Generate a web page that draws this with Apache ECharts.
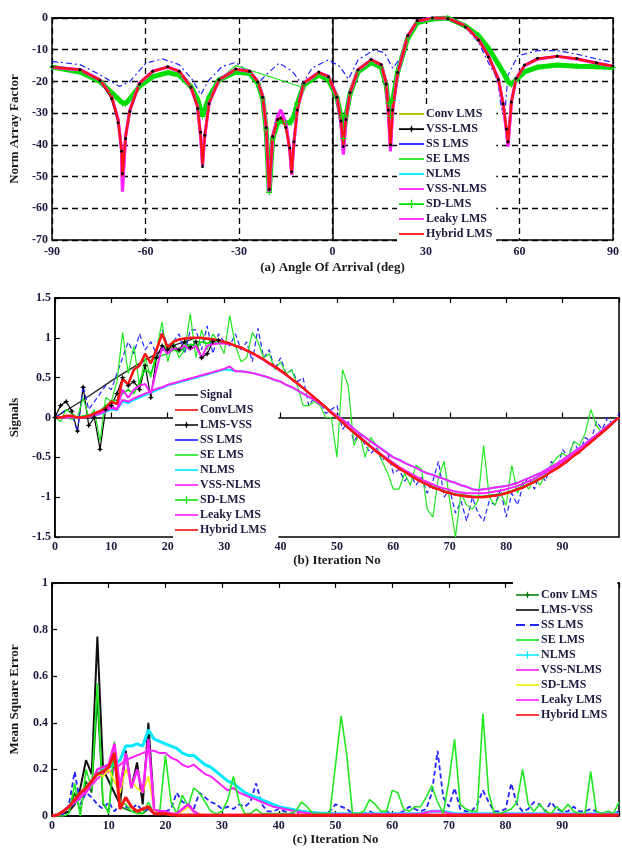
<!DOCTYPE html>
<html><head><meta charset="utf-8">
<script src="https://cdn.jsdelivr.net/npm/echarts@6/dist/echarts.min.js"></script>
<style>html,body{margin:0;padding:0;background:#fff}#c{width:622px;height:849px}</style>
</head><body><div id="c"></div>
<script>
// ---------- Panel (a): array factor vs angle ----------
const angleA = [-90,-81,-74.6,-70.9,-68.8,-67.7,-67.4,-66.4,-65,-61.9,
  -57.7,-52.9,-49.2,-45.5,-43.3,-42.3,-41.7,-41,-39.6,-36.4,
  -31,-26.6,-24,-22.4,-21.3,-20.3,-19.2,-17.6,-16.6,-15,
  -13.7,-13.1,-12.4,-11.3,-9.2,-4.4,-1.3,1.4,2.7,3.5,
  4.3,5.6,8.2,12.4,15.6,17.2,17.9,18.6,19.3,20.9,
  24.1,27.2,32,37,42.6,46.8,50,53.2,54.7,55.8,
  56.3,57.4,58.9,61.6,65.8,72.1,78.4,84.7,90];
const hybridA = [-15.5,-16.3,-19.5,-24.7,-32,-41.6,-50,-37.4,-29,-20.5,
  -16.8,-15.5,-16.8,-21.6,-27.9,-37.4,-46,-37.4,-26.8,-19.5,
  -16.2,-16.8,-20,-24.7,-34.2,-54.5,-37.4,-32.1,-31.3,-34.2,
  -41.6,-49,-39.5,-29,-20.5,-17.2,-18.4,-24.7,-32.1,-40,
  -32,-23.7,-16.3,-13.2,-14.7,-20.5,-29,-40.5,-29,-17.4,
  -5.8,-1,0,0,-2.5,-6.7,-11.9,-19.2,-26.5,-34.8,
  -39.5,-26.5,-19.2,-15,-12.9,-12.1,-12.9,-14.2,-15.2];
const leakyA = [-15.5,-16.3,-19.5,-24.7,-32,-41.6,-54.7,-37.4,-29,-20.5,
  -16.8,-15.5,-16.8,-21.6,-27.9,-37.4,-46.5,-37.4,-26.8,-19.5,
  -16.2,-16.8,-20,-24.7,-34.2,-55,-37.4,-31,-29,-33,
  -41.6,-49.5,-39.5,-29,-20.5,-17.2,-18.4,-24.7,-33,-43,
  -32,-23.7,-16.3,-13.2,-14.7,-20.5,-29.5,-42,-29,-17.4,
  -5.8,-1,0,0,-2.5,-6.7,-11.9,-19.2,-27,-35.5,
  -40.5,-26.5,-19.2,-15,-12.9,-12.1,-12.9,-14.2,-15.2];
const vssLmsA = [-15.3,-16.3,-19.8,-25.5,-33,-42,-49,-38,-29.5,-20.8,
  -16.8,-15.3,-16.8,-21.8,-28.5,-36,-46.8,-37,-27,-19.5,
  -16,-16.8,-20.2,-25,-34.5,-54,-37.4,-32,-31.5,-34.5,
  -41,-48.5,-39,-29,-20.5,-17,-18.5,-25,-32.5,-40.5,
  -32,-23.5,-16.3,-13,-14.7,-20.8,-29,-40,-29,-17.2,
  -5.5,-0.8,0,-0.2,-2.8,-7,-12.3,-19.5,-27,-35,
  -39,-26.5,-19,-14.8,-12.7,-12,-12.8,-14.1,-15.1];
const sdLmsA = [-15.5,-17,-20,-23.5,-25.5,-26.5,-27,-27,-25.5,-21.5,
  -18.5,-17.2,-18,-21.5,-25.5,-29,-31,-29,-25,-19.5,
  -17,-17.5,-20.5,-25.5,-35,-55,-38,-33,-32.5,-33,
  -33,-33,-31,-27,-21,-18,-19.5,-25,-31,-38,
  -31,-24,-17,-14,-15.5,-21,-27,-31,-26,-17,
  -6.5,-1.5,-0.3,0,-2.5,-5.5,-9.5,-14.5,-17,-19,
  -20,-21,-19.5,-17,-15.5,-14.8,-15.2,-15.4,-15.6];
const angleSE = [-90,-81,-74.6,-70.9,-68.8,-67.7,-67.4,-66.4,-65,-61.9,
  -57.7,-52.9,-49.2,-45.5,-43.3,-42.3,-41.7,-41,-39.6,-36.4,
  -31,-9.2,-4.4,-1.3,1.4,2.7,3.5,4.3,5.6,8.2,
  12.4,15.6,17.2,17.9,18.6,19.3,20.9,24.1,27.2,32,
  37,42.6,46.8,50,53.2,54.7,55.8,56.3,57.4,58.9,
  61.6,65.8,72.1,78.4,84.7,90];
const seLmsA = [-15.5,-17,-20,-23.5,-25.5,-26.5,-27,-27,-25.5,-21.5,
  -18.5,-17.2,-18,-21.5,-25.5,-29,-31,-29,-25,-19.5,
  -15,-22,-18,-19.5,-25,-31,-38,-31,-24,-17,
  -14,-15.5,-21,-27,-31,-26,-17,-6.5,-1.5,-0.3,
  0,-2.5,-5.5,-9.5,-14.5,-17,-19,-20,-21,-19.5,
  -17,-15.5,-14.8,-15.2,-15.4,-15.6];
const angleSS = [-90,-81,-74.6,-68.3,-65,-59.8,-54.5,-49.2,-44.9,-42.3,
  -39.6,-35.4,-31,-26.6,-24,-21.3,-17.1,-12.9,-9.7,-6.6,
  -1.3,2.4,5.1,8.2,13.5,16.7,19.3,21.4,24.1,27.2,
  32,37,42.6,46.8,50,52.2,53.2,54.2,55.2,56.3,
  59.5,65.8,72.1,78.4,84.7,90];
const ssLmsA = [-13.7,-14.7,-17.9,-21.6,-20,-14.2,-12.9,-14.7,-19.5,-24.2,
  -19.5,-15.3,-14,-17.4,-20.7,-17.9,-14.2,-16.8,-21,-15.8,
  -13.2,-15.3,-19.3,-13.2,-10,-11,-15.8,-13.2,-6.5,-1.2,
  0,-0.2,-3,-7.5,-14,-18,-21,-28.5,-31,-18,
  -11.9,-10.3,-10.3,-11.4,-12.9,-14];

// ---------- Panel (b): signals vs iteration ----------
const signalX = [0,5,10,15,20,25,30,35,40,45,50,55,60,65,70,75,80,85,90,95,100];
const signalB = [0,0.22,0.46,0.68,0.88,1,0.95,0.81,0.59,0.31,0,-0.31,-0.59,-0.81,-0.95,-1,-0.95,-0.81,-0.59,-0.31,0];
const hybridB = [0,0,0.02,0.02,0,0,0.02,0.05,0.08,0.12,
  0.2,0.17,0.48,0.42,0.6,0.65,0.8,0.68,0.85,1.05,
  0.88,0.95,0.98,0.99,1,1,1,0.99,0.98,0.97,
  0.95,0.93,0.9,0.88,0.84,0.81,0.77,0.73,0.68,0.64,
  0.59,0.54,0.48,0.43,0.37,0.31,0.25,0.19,0.13,0.06,
  0,-0.06,-0.13,-0.19,-0.25,-0.31,-0.37,-0.43,-0.48,-0.54,
  -0.59,-0.64,-0.68,-0.73,-0.77,-0.81,-0.84,-0.88,-0.9,-0.93,
  -0.95,-0.97,-0.98,-0.99,-1,-1,-1,-0.99,-0.98,-0.97,
  -0.95,-0.93,-0.9,-0.88,-0.84,-0.81,-0.77,-0.73,-0.68,-0.64,
  -0.59,-0.54,-0.48,-0.43,-0.37,-0.31,-0.25,-0.19,-0.13,-0.06,
  0];
const lmsVssB = [0,0.15,0.2,0.08,-0.17,0.38,-0.1,0,-0.4,0.1,
  0.15,0.3,0.5,0.4,0.45,0.35,0.65,0.25,0.75,0.9,
  0.85,0.9,0.85,0.95,0.88,0.95,0.75,0.8,0.95,0.97,
  0.95,0.93,0.9,0.88,0.84,0.81,0.77,0.73,0.68,0.64,
  0.59,0.54,0.48,0.43,0.37,0.31,0.25,0.19,0.13,0.06,
  0,-0.06,-0.13,-0.19,-0.25,-0.31,-0.37,-0.43,-0.48,-0.54,
  -0.59,-0.64,-0.68,-0.73,-0.77,-0.81,-0.84,-0.88,-0.9,-0.93,
  -0.95,-0.97,-0.98,-0.99,-1,-1,-1,-0.99,-0.98,-0.97,
  -0.95,-0.93,-0.9,-0.88,-0.84,-0.81,-0.77,-0.73,-0.68,-0.64,
  -0.59,-0.54,-0.48,-0.43,-0.37,-0.31,-0.25,-0.19,-0.13,-0.06,
  0];
const ssLmsB = [0,0.05,0.1,0.05,-0.18,0.4,0.1,0.2,0.3,0.4,
  0.35,0.55,0.75,0.95,0.8,1.05,0.85,0.95,0.8,1.1,
  0.9,0.95,1.05,0.8,1.1,1.1,0.85,1.15,0.8,1.05,
  0.95,0.9,1.05,0.85,0.95,0.7,1.12,0.75,0.85,0.6,
  0.75,0.55,0.6,0.45,0.5,0.15,0.25,0.2,0.05,0.1,
  0.15,-0.15,-0.05,-0.3,-0.2,-0.35,-0.45,-0.38,-0.55,-0.45,
  -0.7,-0.65,-0.8,-0.7,-0.85,-0.75,-0.95,-0.8,-0.55,-1.0,
  -0.9,-1.2,-1.05,-1.3,-1.0,-1.2,-1.3,-1.05,-1.1,-0.9,
  -1.25,-0.95,-1.1,-0.85,-0.75,-0.9,-0.7,-0.8,-0.55,-0.65,
  -0.4,-0.5,-0.3,-0.45,-0.25,-0.3,-0.05,-0.15,0,-0.1,
  0.05];
const seLmsB = [0,-0.05,0.1,0.05,0,0.25,0,0.1,-0.3,0.25,
  0.2,0.45,1.07,0.55,0.9,0.4,0.75,0.5,0.85,1.2,
  0.7,0.95,0.75,0.85,1.3,0.75,1.1,0.85,1.05,0.95,
  0.8,1.28,0.9,0.7,0.75,1.07,0.95,0.75,0.8,0.6,
  0.7,0.55,0.6,0.4,0.15,0.15,0.2,0.15,0,0,
  -0.5,0.6,0.4,-0.35,-0.2,-0.5,-0.25,-0.35,-0.55,-0.7,
  -0.9,-0.9,-0.7,-0.85,-0.6,-0.65,-1.15,-1.25,-0.75,-0.55,
  -1.05,-1.5,-0.95,-1.1,-1.15,-1.05,-0.35,-1.0,-1.1,-0.95,
  -1.1,-0.6,-0.95,-0.8,-0.9,-0.75,-0.85,-0.7,-0.6,-0.5,
  -0.45,-0.5,-0.3,-0.35,-0.2,0.1,-0.1,-0.2,-0.1,-0.05,
  0];
const nlmsB = [0,0,0,0,0,0,0.01,0.02,0.04,0.07,
  0.1,0.09,0.2,0.18,0.22,0.25,0.28,0.31,0.34,0.37,
  0.4,0.42,0.44,0.46,0.48,0.5,0.52,0.54,0.56,0.58,
  0.6,0.6,0.58,0.58,0.57,0.56,0.54,0.52,0.5,0.47,
  0.45,0.41,0.38,0.34,0.3,0.26,0.22,0.17,0.12,0.07,
  0.02,-0.03,-0.08,-0.14,-0.2,-0.25,-0.3,-0.35,-0.4,-0.45,
  -0.5,-0.53,-0.57,-0.6,-0.63,-0.67,-0.7,-0.72,-0.75,-0.77,
  -0.8,-0.82,-0.85,-0.87,-0.9,-0.91,-0.9,-0.89,-0.88,-0.87,
  -0.86,-0.84,-0.82,-0.79,-0.76,-0.73,-0.7,-0.66,-0.62,-0.58,
  -0.53,-0.48,-0.43,-0.38,-0.33,-0.27,-0.22,-0.16,-0.1,-0.05,
  0];
const vssNlmsB = [0,0,0,0,0,0,0.01,0.03,0.05,0.08,
  0.12,0.1,0.22,0.2,0.24,0.27,0.3,0.33,0.36,0.38,
  0.41,0.43,0.45,0.47,0.49,0.51,0.53,0.55,0.57,0.59,
  0.61,0.64,0.58,0.58,0.57,0.56,0.54,0.52,0.5,0.47,
  0.45,0.41,0.38,0.34,0.3,0.26,0.22,0.17,0.12,0.07,
  0.02,-0.03,-0.08,-0.14,-0.2,-0.25,-0.3,-0.35,-0.4,-0.45,
  -0.5,-0.53,-0.57,-0.6,-0.63,-0.67,-0.7,-0.72,-0.75,-0.77,
  -0.8,-0.82,-0.85,-0.87,-0.9,-0.91,-0.9,-0.89,-0.88,-0.87,
  -0.86,-0.84,-0.82,-0.79,-0.76,-0.73,-0.7,-0.66,-0.62,-0.58,
  -0.53,-0.48,-0.43,-0.38,-0.33,-0.27,-0.22,-0.16,-0.1,-0.05,
  0];
const sdLmsB = [0,0,0,-0.02,0,0.02,0.03,0.05,0.08,0.15,
  0.2,0.22,0.3,0.35,0.3,0.45,0.6,0.55,0.75,0.78,
  0.8,0.85,0.82,0.88,0.92,0.9,0.95,0.93,0.96,0.95,
  0.94,0.92,0.9,0.87,0.84,0.8,0.77,0.73,0.68,0.64,
  0.59,0.54,0.48,0.43,0.37,0.31,0.25,0.19,0.13,0.06,
  0,-0.06,-0.12,-0.18,-0.24,-0.3,-0.36,-0.42,-0.47,-0.53,
  -0.58,-0.63,-0.67,-0.72,-0.76,-0.8,-0.83,-0.87,-0.89,-0.92,
  -0.94,-0.96,-0.97,-0.98,-0.99,-0.99,-0.99,-0.98,-0.97,-0.96,
  -0.94,-0.92,-0.89,-0.87,-0.83,-0.8,-0.76,-0.72,-0.67,-0.63,
  -0.58,-0.53,-0.47,-0.42,-0.36,-0.3,-0.24,-0.18,-0.12,-0.06,
  0];
const leakyB = [0,0,0,0,0,0,0.01,0.03,0.05,0.1,
  0.15,0.1,0.35,0.25,0.35,0.4,0.42,0.3,0.6,0.88,
  0.8,0.87,0.85,0.9,0.85,0.9,0.75,0.9,0.92,0.93,
  0.93,0.92,0.9,0.87,0.84,0.8,0.76,0.72,0.67,0.63,
  0.58,0.53,0.48,0.42,0.37,0.31,0.25,0.19,0.13,0.06,
  0,-0.06,-0.12,-0.18,-0.24,-0.3,-0.36,-0.41,-0.47,-0.52,
  -0.57,-0.62,-0.66,-0.7,-0.74,-0.78,-0.81,-0.84,-0.87,-0.89,
  -0.91,-0.93,-0.94,-0.95,-0.95,-0.95,-0.95,-0.94,-0.93,-0.92,
  -0.9,-0.88,-0.86,-0.83,-0.8,-0.77,-0.73,-0.69,-0.65,-0.6,
  -0.56,-0.51,-0.46,-0.41,-0.35,-0.3,-0.24,-0.18,-0.12,-0.06,
  0];

// ---------- Panel (c): mean square error vs iteration ----------
const convLmsC = [0,0,0.01,0.02,0.1,0.02,0.15,0.1,0.5,0.05,
  0.02,0.25,0.04,0.03,0.02,0.02,0.01,0.03,0.01,0.01,
  0.005,0.005,0.005,0.005,0.005,0.005,0.005,0.005,0.005,0.005,
  0.005,0.005,0.005,0.005,0.005,0.005,0.005,0.005,0.005,0.005,
  0.005,0.005,0.005,0.005,0.005,0.005,0.005,0.005,0.005,0.005,
  0.005,0.005,0.005,0.005,0.005,0.005,0.005,0.005,0.005,0.005,
  0.005,0.005,0.005,0.005,0.005,0.005,0.005,0.005,0.005,0.005,
  0.005,0.005,0.005,0.005,0.005,0.005,0.005,0.005,0.005,0.005,
  0.005,0.005,0.005,0.005,0.005,0.005,0.005,0.005,0.005,0.005,
  0.005,0.005,0.005,0.005,0.005,0.005,0.005,0.005,0.005,0.005,
  0.005];
const lmsVssC = [0,0,0.01,0.02,0.05,0.12,0.24,0.18,0.77,0.2,
  0.15,0.1,0.05,0.28,0.12,0.23,0.05,0.4,0.03,0.01,
  0.01,0.005,0.005,0.005,0.005,0.005,0.003,0.003,0.003,0.003,
  0.003,0.003,0.003,0.003,0.003,0.003,0.003,0.003,0.003,0.003,
  0.003,0.003,0.003,0.003,0.003,0.003,0.003,0.003,0.003,0.003,
  0.003,0.003,0.003,0.003,0.003,0.003,0.003,0.003,0.003,0.003,
  0.003,0.003,0.003,0.003,0.003,0.003,0.003,0.003,0.003,0.003,
  0.003,0.003,0.003,0.003,0.003,0.003,0.003,0.003,0.003,0.003,
  0.003,0.003,0.003,0.003,0.003,0.003,0.003,0.003,0.003,0.003,
  0.003,0.003,0.003,0.003,0.003,0.003,0.003,0.003,0.003,0.003,
  0.003];
const ssLmsC = [0,0,0.01,0.05,0.19,0.05,0.1,0.08,0.05,0.03,
  0.06,0.02,0.05,0.04,0.03,0.05,0.02,0.03,0.01,0.01,
  0.02,0.03,0.1,0.06,0.05,0.03,0.1,0.08,0.06,0.05,
  0.03,0.04,0.03,0.05,0.04,0.06,0.14,0.05,0.02,0.02,
  0.03,0.02,0.01,0.01,0.02,0.01,0.01,0.01,0.01,0.02,
  0.05,0.04,0.03,0.01,0.01,0.01,0.02,0.01,0.01,0.02,
  0.01,0.01,0.02,0.04,0.03,0.02,0.03,0.1,0.28,0.08,
  0.04,0.12,0.03,0.02,0.02,0.05,0.11,0.06,0.02,0.02,
  0.03,0.14,0.05,0.02,0.03,0.06,0.05,0.02,0.06,0.03,
  0.02,0.02,0.04,0.02,0.02,0.03,0.02,0.01,0.02,0.01,
  0.02];
const seLmsC = [0,0,0,0.01,0.14,0,0.2,0.12,0.57,0.06,
  0.01,0.32,0.06,0.05,0.02,0.01,0.01,0.06,0.01,0.02,
  0.26,0.06,0.01,0.09,0.04,0.12,0.1,0.06,0.02,0.01,
  0.02,0.07,0.17,0.06,0.01,0.01,0.03,0.01,0.01,0.01,
  0.01,0.01,0.01,0.02,0.06,0.04,0.01,0.01,0.01,0.01,
  0.22,0.43,0.26,0.01,0.01,0.02,0.07,0.05,0.02,0.02,
  0.11,0.1,0.03,0.02,0.04,0.04,0.08,0.13,0.06,0.01,
  0.15,0.33,0.05,0.03,0.02,0.02,0.44,0.1,0.01,0.01,
  0.02,0.03,0.06,0.2,0.05,0.02,0.05,0.02,0.01,0.04,
  0.02,0.05,0.02,0.01,0.01,0.19,0.02,0.01,0.02,0.01,
  0.06];
const nlmsC = [0,0.005,0.02,0.04,0.06,0.09,0.12,0.15,0.18,0.2,
  0.21,0.22,0.24,0.3,0.3,0.31,0.3,0.37,0.33,0.32,
  0.31,0.3,0.29,0.27,0.26,0.26,0.24,0.22,0.21,0.19,
  0.17,0.15,0.14,0.12,0.1,0.09,0.08,0.07,0.06,0.05,
  0.04,0.035,0.03,0.025,0.02,0.017,0.015,0.013,0.012,0.011,
  0.01,0.01,0.01,0.01,0.01,0.01,0.01,0.01,0.01,0.01,
  0.01,0.01,0.01,0.01,0.01,0.01,0.015,0.02,0.02,0.02,
  0.015,0.01,0.01,0.01,0.01,0.01,0.01,0.01,0.01,0.01,
  0.01,0.01,0.01,0.01,0.01,0.01,0.01,0.01,0.01,0.01,
  0.01,0.01,0.01,0.01,0.01,0.01,0.01,0.01,0.01,0.01,
  0.01];
const vssNlmsC = [0,0.005,0.02,0.04,0.06,0.08,0.1,0.13,0.16,0.18,
  0.19,0.2,0.22,0.24,0.25,0.26,0.27,0.28,0.28,0.27,
  0.27,0.25,0.24,0.22,0.21,0.22,0.2,0.18,0.17,0.15,
  0.13,0.11,0.12,0.1,0.09,0.08,0.07,0.06,0.05,0.04,
  0.035,0.03,0.025,0.02,0.016,0.013,0.011,0.01,0.008,0.008,
  0.008,0.008,0.008,0.008,0.008,0.008,0.008,0.008,0.008,0.008,
  0.008,0.008,0.008,0.008,0.008,0.01,0.015,0.02,0.02,0.018,
  0.012,0.008,0.008,0.008,0.008,0.008,0.008,0.008,0.008,0.008,
  0.008,0.008,0.008,0.008,0.008,0.008,0.008,0.008,0.008,0.008,
  0.008,0.008,0.008,0.008,0.008,0.008,0.008,0.008,0.008,0.008,
  0.008];
const sdLmsC = [0,0.005,0.02,0.04,0.06,0.08,0.12,0.15,0.18,0.17,
  0.2,0.15,0.1,0.2,0.15,0.12,0.1,0.17,0.03,0.01,
  0.01,0.01,0.01,0.02,0.04,0.02,0.01,0.005,0.005,0.005,
  0.005,0.005,0.005,0.005,0.005,0.005,0.005,0.005,0.005,0.005,
  0.005,0.005,0.005,0.005,0.005,0.005,0.005,0.005,0.005,0.005,
  0.005,0.005,0.005,0.005,0.005,0.005,0.005,0.005,0.005,0.005,
  0.005,0.005,0.005,0.005,0.005,0.005,0.005,0.005,0.005,0.005,
  0.005,0.005,0.005,0.005,0.005,0.005,0.005,0.005,0.005,0.005,
  0.005,0.005,0.005,0.005,0.005,0.005,0.005,0.005,0.005,0.005,
  0.005,0.005,0.005,0.005,0.005,0.005,0.005,0.005,0.005,0.005,
  0.005];
const leakyC = [0,0.005,0.02,0.04,0.06,0.08,0.11,0.14,0.2,0.21,
  0.22,0.31,0.12,0.27,0.12,0.2,0.1,0.33,0.03,0.02,
  0.02,0.01,0.01,0.03,0.05,0.02,0.005,0.004,0.004,0.004,
  0.004,0.004,0.004,0.004,0.004,0.004,0.004,0.004,0.004,0.004,
  0.004,0.004,0.004,0.004,0.004,0.004,0.004,0.004,0.004,0.004,
  0.004,0.004,0.004,0.004,0.004,0.004,0.004,0.004,0.004,0.004,
  0.004,0.004,0.004,0.004,0.004,0.004,0.004,0.004,0.004,0.004,
  0.004,0.004,0.004,0.004,0.004,0.004,0.004,0.004,0.004,0.004,
  0.004,0.004,0.004,0.004,0.004,0.004,0.004,0.004,0.004,0.004,
  0.004,0.004,0.004,0.004,0.004,0.004,0.004,0.004,0.004,0.004,
  0.004];
const hybridC = [0,0.005,0.02,0.04,0.07,0.1,0.12,0.15,0.18,0.19,
  0.21,0.27,0.03,0.08,0.04,0.02,0.03,0.04,0.01,0.01,
  0.01,0.005,0.003,0.003,0.003,0.003,0.003,0.003,0.003,0.003,
  0.003,0.003,0.003,0.003,0.003,0.003,0.003,0.003,0.003,0.003,
  0.003,0.003,0.003,0.003,0.003,0.003,0.003,0.003,0.003,0.003,
  0.003,0.003,0.003,0.003,0.003,0.003,0.003,0.003,0.003,0.003,
  0.003,0.003,0.003,0.003,0.003,0.003,0.003,0.003,0.003,0.003,
  0.003,0.003,0.003,0.003,0.003,0.003,0.003,0.003,0.003,0.003,
  0.003,0.003,0.003,0.003,0.003,0.003,0.003,0.003,0.003,0.003,
  0.003,0.003,0.003,0.003,0.003,0.003,0.003,0.003,0.003,0.003,
  0.003];

// Tick labels / titles
const xTicksA = [-90,-60,-30,0,30,60,90];
const legendA = ['Conv LMS','VSS-LMS','SS LMS','SE LMS','NLMS','VSS-NLMS','SD-LMS','Leaky LMS','Hybrid LMS'];
const legendB = ['Signal','ConvLMS','LMS-VSS','SS LMS','SE LMS','NLMS','VSS-NLMS','SD-LMS','Leaky LMS','Hybrid LMS'];
const legendC = ['Conv LMS','LMS-VSS','SS LMS','SE LMS','NLMS','VSS-NLMS','SD-LMS','Leaky LMS','Hybrid LMS'];

// ---------- build ----------
const FONT = "'Liberation Serif','Times New Roman',serif";
const TXT = '#1c1a3e';
const iter = hybridB.map((_, i) => i);
const SUF = ['', '\u200b', '\u200b\u200b'];
const XI = [0, 1, 3];

const ICON_LINE = 'path://M0,0H25V1.8H0Z';
const ICON_DASH = 'path://M0,0H9V1.8H0Z M14,0H23V1.8H14Z';
const ICON_STAR = 'path://M0,4.6H25V6.3H0Z M12.5,1.4L13.5,4.4L16.8,5.4L13.5,6.4L12.5,9.4L11.5,6.4L8.2,5.4L11.5,4.4Z';
const ICON_PLUS = 'path://M0,4.6H25V6.3H0Z M11.8,1.2H13.2V9.6H11.8Z';
const STAR_SYM = 'path://M0,-10L3,-3L10,0L3,3L0,10L-3,3L-10,0L-3,-3Z';
const PLUS_SYM = 'path://M-10,-1.5H10V1.5H-10Z M-1.5,-10H1.5V10H-1.5Z';

function mk(name, g, xs, ys, color, o) {
  o = o || {};
  const data = xs.map((x, i) => {
    const it = { value: [x, ys[i]] };
    if (o.symbolUntil !== undefined && x > o.symbolUntil) it.symbol = 'none';
    return it;
  });
  return {
    type: 'line', name: name + SUF[g], xAxisIndex: XI[g], yAxisIndex: g, data,
    symbol: o.symbol || 'none', symbolSize: o.symbolSize || 4, showSymbol: !!o.symbol,
    lineStyle: { color, width: o.width || 1.5, type: o.dash || 'solid' },
    itemStyle: { color }, z: o.z || 2, silent: true, animation: false
  };
}

const C = {olive:'#b9b900', black:'#000000', blue:'#2323ff', se:'#22e822', sd:'#00dd00',
  cyan:'#00eaff', mag:'#ff22ff', red:'#ff1414', dgreen:'#007800', yellow:'#f2f200'};

const series = [
  // (a)
  mk('Conv LMS', 0, angleA, hybridA, C.olive, {width:1.5}),
  mk('SS LMS', 0, angleSS, ssLmsA, C.blue, {width:1.2, dash:[6,3,2,3]}),
  mk('SE LMS', 0, angleSE, seLmsA, C.se, {width:1.2}),
  mk('SD-LMS', 0, angleA, sdLmsA, C.sd, {width:5, symbol:PLUS_SYM, symbolSize:6}),
  mk('NLMS', 0, angleA, hybridA, C.cyan, {width:1.5}),
  mk('VSS-NLMS', 0, angleA, leakyA, C.mag, {width:3}),
  mk('Leaky LMS', 0, angleA, leakyA, C.mag, {width:3}),
  mk('VSS-LMS', 0, angleA, vssLmsA, C.black, {width:1, symbol:'circle', symbolSize:3}),
  mk('Hybrid LMS', 0, angleA, hybridA, C.red, {width:2.3}),
  // (b)
  mk('Signal', 1, signalX, signalB, '#222', {width:1.3}),
  mk('LMS-VSS', 1, iter, lmsVssB, C.black, {width:1.2, symbol:STAR_SYM, symbolSize:6, symbolUntil:29}),
  mk('SS LMS', 1, iter, ssLmsB, C.blue, {width:1.2, dash:[5,3]}),
  mk('SE LMS', 1, iter, seLmsB, C.se, {width:1.2}),
  mk('NLMS', 1, iter, nlmsB, C.cyan, {width:2}),
  mk('VSS-NLMS', 1, iter, vssNlmsB, C.mag, {width:2}),
  mk('SD-LMS', 1, iter, sdLmsB, C.sd, {width:1.5}),
  mk('Leaky LMS', 1, iter, leakyB, C.mag, {width:2}),
  mk('ConvLMS', 1, iter, hybridB, C.red, {width:2.2}),
  mk('Hybrid LMS', 1, iter, hybridB, C.red, {width:2.2}),
  // (c)
  mk('Conv LMS', 2, iter, convLmsC, C.dgreen, {width:1.5}),
  mk('LMS-VSS', 2, iter, lmsVssC, '#111', {width:2}),
  mk('SS LMS', 2, iter, ssLmsC, C.blue, {width:1.8, dash:[5,3]}),
  mk('NLMS', 2, iter, nlmsC, C.cyan, {width:3}),
  mk('VSS-NLMS', 2, iter, vssNlmsC, C.mag, {width:2}),
  mk('SE LMS', 2, iter, seLmsC, C.se, {width:1.6}),
  mk('SD-LMS', 2, iter, sdLmsC, C.yellow, {width:1.6}),
  mk('Leaky LMS', 2, iter, leakyC, C.mag, {width:2.5}),
  mk('Hybrid LMS', 2, iter, hybridC, C.red, {width:3})
];

const iconsA = [ICON_LINE, ICON_STAR, ICON_LINE, ICON_LINE, ICON_LINE, ICON_LINE, ICON_PLUS, ICON_LINE, ICON_LINE];
const iconsB = [ICON_LINE, ICON_LINE, ICON_STAR, ICON_LINE, ICON_LINE, ICON_LINE, ICON_LINE, ICON_PLUS, ICON_LINE, ICON_LINE];
const iconsC = [ICON_STAR, ICON_LINE, ICON_DASH, ICON_LINE, ICON_PLUS, ICON_LINE, ICON_LINE, ICON_LINE, ICON_LINE];

function legend(names, icons, g, pos) {
  return Object.assign({
    orient: 'vertical', selectedMode: false, backgroundColor: '#fff',
    itemWidth: 25, itemHeight: 11, itemGap: 3,
    data: names.map((n, i) => ({ name: n + SUF[g], icon: icons[i] })),
    formatter: n => n.replace(/\u200b/g, ''),
    textStyle: { fontFamily: FONT, fontWeight: 'bold', fontSize: 12, color: TXT, padding: [0, 0, 0, -3] }
  }, pos);
}

const lab = { fontFamily: FONT, fontWeight: 'bold', fontSize: 12, color: TXT };
const nameSty = { fontFamily: FONT, fontWeight: 'bold', fontSize: 13, color: '#1a1a1a' };
const axLine = { show: true, lineStyle: { color: '#000', width: 1.5 } };

function iterAxis(g, pos) {
  const top = pos === 'top';
  return {
    gridIndex: g, type: 'value', position: pos, min: 0, max: 100, interval: 10,
    axisLine: axLine, axisTick: { show: true, inside: true, length: 5, lineStyle: { color: '#000', width: 1.2 } },
    axisLabel: top ? { show: false } : Object.assign({ margin: 4, formatter: v => v === 100 ? '' : String(v) }, lab),
    splitLine: { show: false },
    name: top ? '' : (g === 1 ? '(b) Iteration No' : '(c) Iteration No'),
    nameLocation: 'middle', nameGap: 17, nameTextStyle: nameSty
  };
}

const option = {
  animation: false,
  backgroundColor: '#fff',
  grid: [
    { left: 52, top: 18, width: 566, height: 222, show: true, borderColor: '#000', borderWidth: 1.5 },
    { left: 52, top: 298, width: 567, height: 239, show: true, borderColor: '#000', borderWidth: 1.5 },
    { left: 52, top: 583, width: 567, height: 233, show: true, borderColor: '#000', borderWidth: 1.5 }
  ],
  xAxis: [
    { gridIndex: 0, type: 'value', min: xTicksA[0], max: xTicksA[xTicksA.length - 1], interval: 30,
      axisLine: axLine, axisTick: { show: false },
      splitLine: { show: true, lineStyle: { color: '#000', type: [6, 4], width: 1.3 } },
      axisLabel: Object.assign({ margin: 6 }, lab),
      name: '(a) Angle Of Arrival (deg)', nameLocation: 'middle', nameGap: 21, nameTextStyle: nameSty },
    iterAxis(1, 'bottom'), iterAxis(1, 'top'),
    iterAxis(2, 'bottom'), iterAxis(2, 'top')
  ],
  yAxis: [
    { gridIndex: 0, type: 'value', min: -70, max: 0, interval: 10,
      axisLine: axLine, axisTick: { show: false },
      splitLine: { show: true, lineStyle: { color: '#000', type: [6, 4], width: 1.3 } },
      axisLabel: Object.assign({ margin: 4 }, lab),
      name: 'Norm Array Factor', nameLocation: 'middle', nameGap: 31, nameTextStyle: nameSty },
    { gridIndex: 1, type: 'value', min: -1.5, max: 1.5, interval: 0.5,
      axisLine: axLine, axisTick: { show: true, inside: true, length: 5, lineStyle: { color: '#000', width: 1.2 } },
      splitLine: { show: false }, axisLabel: Object.assign({ margin: 4 }, lab),
      name: 'Signals', nameLocation: 'middle', nameGap: 31, nameTextStyle: nameSty },
    { gridIndex: 2, type: 'value', min: 0, max: 1, interval: 0.2,
      axisLine: axLine, axisTick: { show: true, inside: true, length: 5, lineStyle: { color: '#000', width: 1.2 } },
      splitLine: { show: false }, axisLabel: Object.assign({ margin: 4 }, lab),
      name: 'Mean Square Error', nameLocation: 'middle', nameGap: 31, nameTextStyle: nameSty }
  ],
  legend: [
    legend(legendA, iconsA, 0, { left: 397, top: 106, padding: [2, 4, 4, 2] }),
    legend(legendB, iconsB, 1, { left: 173, top: 387, itemWidth: 23, padding: [2, 12, 5, 2] }),
    legend(legendC, iconsC, 2, { left: 513, top: 580, itemWidth: 23, padding: [9, 10, 6, 3] })
  ],
  series
};

const chart = echarts.init(document.getElementById('c'), null, { renderer: 'canvas' });
chart.setOption(option);
</script></body></html>
